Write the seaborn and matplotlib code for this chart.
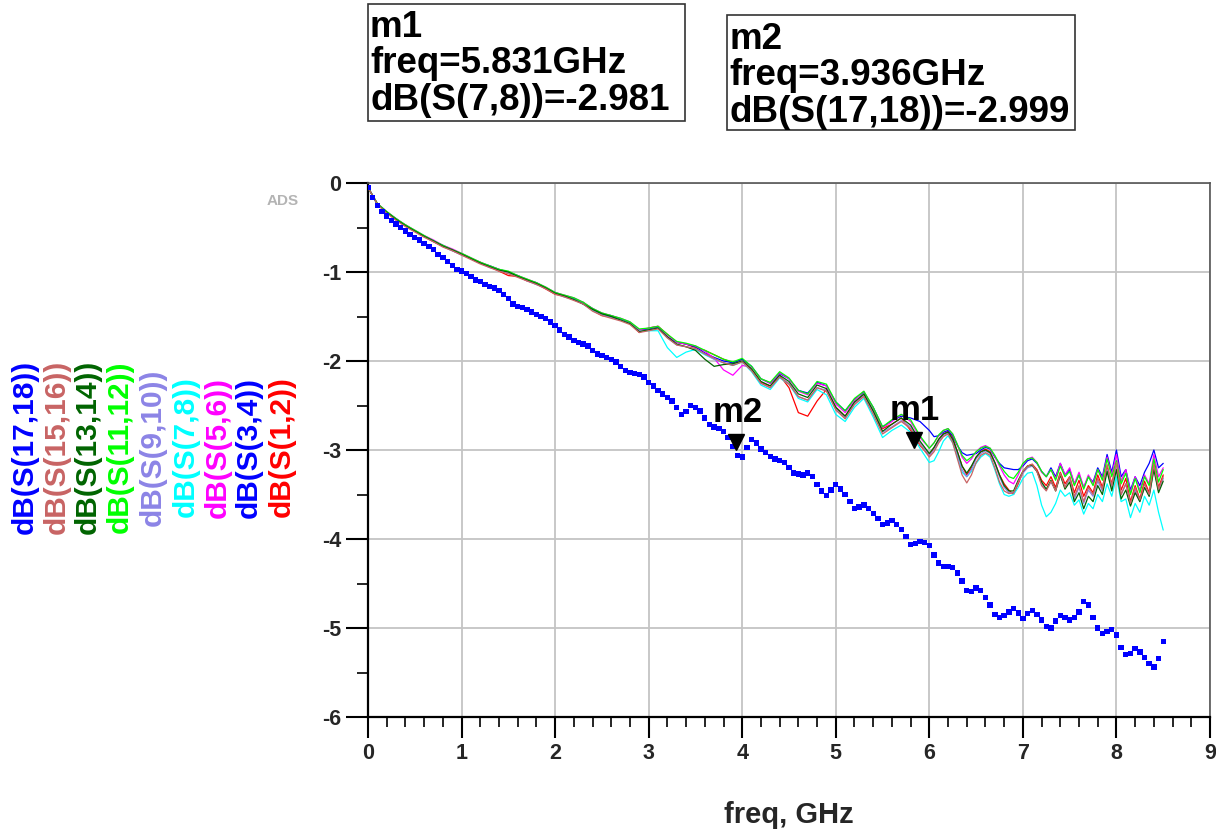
import numpy as np
import pandas as pd
import matplotlib
matplotlib.use("Agg")
import matplotlib.pyplot as plt
import seaborn as sns
from matplotlib.patches import Rectangle
from matplotlib.ticker import MultipleLocator
import matplotlib.transforms as mtransforms

sns.set_style("white")
plt.rcParams['font.family'] = ['Liberation Sans', 'DejaVu Sans']

# ---------------- data ----------------
freq_dots = np.round(np.arange(0, 8.5001, 0.05), 2)
s17_18 = [
    -0.05, -0.16, -0.25, -0.32, -0.37, -0.42, -0.46, -0.50, -0.54, -0.58,
    -0.61, -0.64, -0.68, -0.71, -0.75, -0.80, -0.84, -0.88, -0.93, -0.97,
    -0.99, -1.02, -1.05, -1.09, -1.11, -1.14, -1.16, -1.18, -1.21, -1.25,
    -1.30, -1.36, -1.39, -1.40, -1.42, -1.45, -1.48, -1.50, -1.52, -1.56,
    -1.60, -1.65, -1.70, -1.73, -1.77, -1.79, -1.81, -1.83, -1.88, -1.92,
    -1.94, -1.96, -1.98, -2.01, -2.06, -2.11, -2.13, -2.14, -2.15, -2.18,
    -2.24, -2.28, -2.33, -2.37, -2.41, -2.45, -2.52, -2.60, -2.57, -2.50,
    -2.52, -2.56, -2.64, -2.71, -2.74, -2.76, -2.79, -2.86, -2.96, -3.06,
    -3.08, -2.97, -2.88, -2.92, -2.99, -3.03, -3.07, -3.10, -3.12, -3.14,
    -3.20, -3.26, -3.27, -3.28, -3.26, -3.30, -3.39, -3.46, -3.51, -3.45,
    -3.39, -3.44, -3.50, -3.58, -3.66, -3.64, -3.62, -3.66, -3.71, -3.77,
    -3.84, -3.82, -3.79, -3.84, -3.89, -3.97, -4.06, -4.05, -4.03, -4.04,
    -4.07, -4.18, -4.27, -4.31, -4.31, -4.32, -4.38, -4.47, -4.58, -4.59,
    -4.55, -4.58, -4.66, -4.74, -4.85, -4.88, -4.86, -4.82, -4.78, -4.83,
    -4.89, -4.84, -4.80, -4.85, -4.91, -4.98, -5.00, -4.92, -4.86, -4.88,
    -4.91, -4.88, -4.82, -4.70, -4.74, -4.88, -5.00, -5.06, -5.04, -5.02,
    -5.08, -5.22, -5.30, -5.29, -5.23, -5.27, -5.33, -5.40, -5.44, -5.34,
    -5.15]

freq_lines = np.round(np.concatenate([np.arange(0, 6.0001, 0.1),
                                      np.arange(6.05, 8.5001, 0.05)]), 2)

s1_2 = [
    -0.05, -0.23, -0.33, -0.41, -0.47, -0.54, -0.60, -0.66, -0.71, -0.76,
    -0.80, -0.85, -0.89, -0.94, -0.99, -1.04, -1.05, -1.10, -1.13, -1.19,
    -1.25, -1.27, -1.31, -1.34, -1.43, -1.49, -1.50, -1.54, -1.58, -1.68,
    -1.63, -1.61, -1.70, -1.79, -1.81, -1.85, -1.88, -1.93, -1.98, -2.02,
    -1.98, -2.10, -2.24, -2.28, -2.16, -2.30, -2.58, -2.62, -2.45, -2.32,
    -2.52, -2.62, -2.47, -2.38, -2.57, -2.76, -2.71, -2.64, -2.78, -2.95,
    -3.06,
    -2.98, -2.88, -2.82, -2.79, -2.86, -3.02, -3.18, -3.28, -3.20, -3.08,
    -3.02, -2.99, -3.02, -3.14, -3.28, -3.38, -3.45, -3.50, -3.38, -3.25,
    -3.18, -3.16, -3.22, -3.34, -3.40, -3.30, -3.42, -3.25, -3.38, -3.30,
    -3.48, -3.34, -3.52, -3.40, -3.48, -3.28, -3.42, -3.18, -3.38, -3.15,
    -3.45, -3.32, -3.58, -3.40, -3.55, -3.35, -3.48, -3.15, -3.42, -3.28]

s3_4 = [
    -0.05, -0.24, -0.33, -0.40, -0.48, -0.54, -0.60, -0.65, -0.70, -0.75,
    -0.80, -0.85, -0.90, -0.93, -0.97, -1.00, -1.04, -1.09, -1.12, -1.18,
    -1.23, -1.27, -1.30, -1.35, -1.41, -1.47, -1.49, -1.53, -1.57, -1.65,
    -1.64, -1.62, -1.73, -1.79, -1.81, -1.84, -1.91, -1.96, -2.00, -2.02,
    -1.98, -2.06, -2.20, -2.25, -2.14, -2.20, -2.33, -2.36, -2.24, -2.28,
    -2.46, -2.56, -2.43, -2.35, -2.52, -2.74, -2.67, -2.62, -2.64, -2.68,
    -2.78,
    -2.85, -2.84, -2.80, -2.78, -2.84, -2.95, -3.03, -3.06, -3.05, -3.04,
    -3.00, -2.97, -2.99, -3.08, -3.15, -3.20, -3.21, -3.22, -3.22, -3.18,
    -3.12, -3.10, -3.15, -3.24, -3.30, -3.20, -3.30, -3.15, -3.28, -3.22,
    -3.38, -3.28, -3.42, -3.30, -3.36, -3.20, -3.30, -3.05, -3.25, -3.00,
    -3.30, -3.22, -3.45, -3.30, -3.40, -3.25, -3.15, -3.00, -3.20, -3.15]

s5_6 = [
    -0.05, -0.23, -0.32, -0.40, -0.47, -0.53, -0.59, -0.64, -0.70, -0.74,
    -0.79, -0.84, -0.89, -0.93, -0.97, -1.00, -1.04, -1.08, -1.12, -1.17,
    -1.23, -1.26, -1.29, -1.34, -1.41, -1.46, -1.49, -1.52, -1.56, -1.65,
    -1.63, -1.61, -1.71, -1.79, -1.81, -1.83, -1.89, -1.97, -2.10, -2.16,
    -2.05, -2.07, -2.20, -2.25, -2.13, -2.20, -2.34, -2.38, -2.25, -2.28,
    -2.48, -2.58, -2.44, -2.34, -2.53, -2.75, -2.68, -2.60, -2.68, -2.86,
    -2.98,
    -2.92, -2.84, -2.78, -2.76, -2.82, -2.94, -3.08, -3.15, -3.10, -3.02,
    -2.97, -2.95, -2.98, -3.07, -3.18, -3.28, -3.35, -3.38, -3.28, -3.16,
    -3.10, -3.08, -3.14, -3.25, -3.30, -3.22, -3.32, -3.15, -3.28, -3.20,
    -3.38, -3.25, -3.42, -3.28, -3.38, -3.22, -3.32, -3.08, -3.28, -3.05,
    -3.35, -3.22, -3.48, -3.30, -3.45, -3.28, -3.38, -3.05, -3.30, -3.20]

s7_8 = [
    -0.05, -0.24, -0.33, -0.41, -0.48, -0.54, -0.60, -0.65, -0.71, -0.76,
    -0.80, -0.85, -0.90, -0.94, -0.98, -1.01, -1.05, -1.09, -1.14, -1.18,
    -1.24, -1.28, -1.31, -1.36, -1.43, -1.48, -1.51, -1.54, -1.58, -1.67,
    -1.66, -1.66, -1.85, -1.96, -1.90, -1.87, -1.93, -1.98, -2.02, -2.05,
    -2.01, -2.12, -2.27, -2.32, -2.19, -2.26, -2.42, -2.46, -2.32, -2.38,
    -2.60, -2.68, -2.52, -2.42, -2.63, -2.86, -2.78, -2.72, -2.80, -2.98,
    -3.14,
    -3.12, -3.02, -2.90, -2.84, -2.92, -3.08, -3.25, -3.30, -3.24, -3.15,
    -3.08, -3.04, -3.08, -3.22, -3.38, -3.50, -3.52, -3.50, -3.42, -3.32,
    -3.26, -3.25, -3.40, -3.62, -3.75, -3.70, -3.60, -3.45, -3.52, -3.48,
    -3.62, -3.56, -3.72, -3.60, -3.66, -3.50, -3.58, -3.38, -3.52, -3.30,
    -3.58, -3.55, -3.76, -3.60, -3.70, -3.52, -3.62, -3.45, -3.70, -3.90]

s9_10 = [
    -0.05, -0.24, -0.33, -0.41, -0.48, -0.54, -0.60, -0.66, -0.71, -0.76,
    -0.81, -0.85, -0.90, -0.95, -0.98, -1.01, -1.05, -1.10, -1.14, -1.18,
    -1.24, -1.28, -1.31, -1.36, -1.42, -1.48, -1.51, -1.54, -1.58, -1.67,
    -1.65, -1.63, -1.74, -1.82, -1.84, -1.86, -1.92, -1.98, -2.02, -2.04,
    -2.00, -2.10, -2.25, -2.30, -2.18, -2.25, -2.40, -2.44, -2.30, -2.33,
    -2.54, -2.64, -2.48, -2.39, -2.58, -2.80, -2.74, -2.67, -2.74, -2.92,
    -3.06,
    -3.00, -2.90, -2.84, -2.81, -2.90, -3.05, -3.22, -3.30, -3.22, -3.10,
    -3.04, -3.01, -3.04, -3.15, -3.30, -3.42, -3.48, -3.48, -3.36, -3.26,
    -3.20, -3.18, -3.24, -3.38, -3.45, -3.36, -3.45, -3.28, -3.42, -3.32,
    -3.55, -3.42, -3.60, -3.45, -3.52, -3.35, -3.46, -3.22, -3.42, -3.18,
    -3.50, -3.38, -3.62, -3.45, -3.58, -3.42, -3.52, -3.20, -3.46, -3.32]

s11_12 = [
    -0.05, -0.23, -0.32, -0.40, -0.47, -0.53, -0.59, -0.65, -0.70, -0.75,
    -0.79, -0.84, -0.89, -0.93, -0.97, -0.99, -1.04, -1.08, -1.12, -1.17,
    -1.23, -1.26, -1.29, -1.34, -1.41, -1.46, -1.49, -1.52, -1.56, -1.64,
    -1.63, -1.61, -1.70, -1.78, -1.80, -1.83, -1.88, -1.93, -1.98, -2.01,
    -1.97, -2.06, -2.20, -2.24, -2.12, -2.19, -2.33, -2.37, -2.23, -2.26,
    -2.46, -2.56, -2.42, -2.34, -2.52, -2.74, -2.66, -2.60, -2.66, -2.84,
    -2.98,
    -2.92, -2.83, -2.78, -2.76, -2.82, -2.94, -3.06, -3.12, -3.08, -3.02,
    -2.98, -2.96, -2.98, -3.06, -3.16, -3.24, -3.30, -3.32, -3.25, -3.15,
    -3.10, -3.09, -3.14, -3.24, -3.30, -3.22, -3.34, -3.18, -3.30, -3.24,
    -3.40, -3.28, -3.44, -3.30, -3.40, -3.22, -3.34, -3.10, -3.30, -3.12,
    -3.38, -3.26, -3.50, -3.32, -3.48, -3.30, -3.40, -3.10, -3.36, -3.22]

s13_14 = [
    -0.05, -0.24, -0.33, -0.41, -0.48, -0.54, -0.60, -0.65, -0.71, -0.75,
    -0.80, -0.85, -0.90, -0.94, -0.98, -1.00, -1.05, -1.09, -1.13, -1.18,
    -1.24, -1.27, -1.31, -1.36, -1.42, -1.47, -1.50, -1.54, -1.58, -1.67,
    -1.65, -1.63, -1.73, -1.81, -1.84, -1.88, -1.98, -2.06, -2.04, -2.03,
    -2.00, -2.09, -2.23, -2.28, -2.16, -2.23, -2.37, -2.41, -2.27, -2.31,
    -2.52, -2.62, -2.46, -2.37, -2.56, -2.79, -2.71, -2.64, -2.72, -2.90,
    -3.04,
    -2.97, -2.88, -2.82, -2.80, -2.88, -3.02, -3.18, -3.26, -3.18, -3.08,
    -3.02, -3.00, -3.03, -3.14, -3.28, -3.40, -3.46, -3.46, -3.34, -3.24,
    -3.18, -3.17, -3.24, -3.36, -3.44, -3.34, -3.46, -3.28, -3.44, -3.36,
    -3.58, -3.48, -3.66, -3.52, -3.58, -3.40, -3.50, -3.24, -3.46, -3.22,
    -3.55, -3.45, -3.63, -3.48, -3.58, -3.42, -3.52, -3.22, -3.48, -3.35]

s15_16 = [
    -0.05, -0.24, -0.34, -0.42, -0.49, -0.55, -0.61, -0.66, -0.72, -0.76,
    -0.81, -0.86, -0.91, -0.95, -0.99, -1.02, -1.06, -1.10, -1.14, -1.19,
    -1.25, -1.28, -1.32, -1.36, -1.44, -1.49, -1.52, -1.55, -1.59, -1.68,
    -1.66, -1.64, -1.74, -1.82, -1.84, -1.86, -1.92, -1.97, -2.02, -2.05,
    -2.01, -2.11, -2.25, -2.30, -2.18, -2.26, -2.40, -2.44, -2.30, -2.34,
    -2.55, -2.65, -2.49, -2.40, -2.60, -2.82, -2.75, -2.68, -2.76, -2.94,
    -3.08,
    -3.02, -2.92, -2.85, -2.82, -2.92, -3.10, -3.28, -3.37, -3.28, -3.14,
    -3.06, -3.03, -3.06, -3.20, -3.36, -3.46, -3.49, -3.48, -3.36, -3.24,
    -3.18, -3.16, -3.24, -3.40, -3.46, -3.35, -3.46, -3.26, -3.42, -3.30,
    -3.52, -3.40, -3.58, -3.42, -3.50, -3.32, -3.44, -3.16, -3.40, -3.14,
    -3.50, -3.38, -3.60, -3.42, -3.56, -3.38, -3.50, -3.16, -3.44, -3.30]

trace_names = ["dB(S(1,2))", "dB(S(3,4))", "dB(S(5,6))", "dB(S(7,8))",
               "dB(S(9,10))", "dB(S(11,12))", "dB(S(13,14))", "dB(S(15,16))"]
trace_values = [s1_2, s3_4, s5_6, s7_8, s9_10, s11_12, s13_14, s15_16]
trace_colors = ["#FF0000", "#0000FF", "#FF00FF", "#00FFFF",
                "#8C84E6", "#00FF00", "#006400", "#C86464"]
dot_name = "dB(S(17,18))"
dot_color = "#0000FF"

legend_order = ["dB(S(17,18))", "dB(S(15,16))", "dB(S(13,14))", "dB(S(11,12))",
                "dB(S(9,10))", "dB(S(7,8))", "dB(S(5,6))", "dB(S(3,4))", "dB(S(1,2))"]

m1_freq, m1_val = 5.831, -2.981
m2_freq, m2_val = 3.936, -2.999
m1_lines = ["m1", "freq=5.831GHz", "dB(S(7,8))=-2.981"]
m2_lines = ["m2", "freq=3.936GHz", "dB(S(17,18))=-2.999"]

x_ticks = list(range(0, 10))
x_tick_labels = [str(v) for v in x_ticks]
y_ticks = [0, -1, -2, -3, -4, -5, -6]
y_tick_labels = ["0", "-1", "-2", "-3", "-4", "-5", "-6"]

# ---------------- figure ----------------
W, H = 1216, 832
fig = plt.figure(figsize=(W / 100, H / 100), dpi=100)
ax = fig.add_axes([368 / W, 1 - 717 / H, (1210 - 368) / W, (717 - 183) / H])

rows = []
for name, vals in zip(trace_names, trace_values):
    for f, v in zip(freq_lines, vals):
        rows.append((name, f, v))
df = pd.DataFrame(rows, columns=["trace", "freq", "dB"])
palette = dict(zip(trace_names, trace_colors))

sns.lineplot(data=df, x="freq", y="dB", hue="trace", hue_order=trace_names,
             palette=palette, linewidth=0.9, legend=False, estimator=None,
             sort=False, ax=ax, zorder=3)
sns.scatterplot(x=freq_dots, y=s17_18, marker="s", s=15, color=dot_color,
                edgecolor="none", linewidth=0, ax=ax, zorder=4)

ax.set_xlim(0, 9)
ax.set_ylim(-6, 0)
ax.set_xticks(x_ticks)
ax.set_xticklabels(x_tick_labels, fontsize=15.5, fontweight="bold")
ax.set_yticks(y_ticks)
ax.set_yticklabels(y_tick_labels, fontsize=15.5, fontweight="bold")
ax.xaxis.set_minor_locator(MultipleLocator(0.2))
ax.yaxis.set_minor_locator(MultipleLocator(0.5))
ax.tick_params(axis="x", which="major", direction="out", length=15, width=1.5,
               color="black", pad=4, bottom=True)
ax.tick_params(axis="x", which="minor", direction="out", length=7.5, width=1.2,
               color="black", bottom=True)
ax.tick_params(axis="y", which="major", direction="out", length=16, width=1.5,
               color="black", pad=3, left=True)
ax.tick_params(axis="y", which="minor", direction="out", length=8, width=1.2,
               color="black", left=True)
ax.grid(True, which="major", color="#c4c4c4", linewidth=1.3)
ax.set_axisbelow(True)
for side in ["left", "bottom"]:
    ax.spines[side].set_color("black")
    ax.spines[side].set_linewidth(1.6)
for side in ["top", "right"]:
    ax.spines[side].set_color("#555555")
    ax.spines[side].set_linewidth(1.2)

ax.set_xlabel("freq, GHz", fontsize=21, fontweight="bold")
ax.set_ylabel("")
ax.xaxis.label.set_va("center")
ax.xaxis.set_label_coords(0.5, (717 - 815) / 534)

# markers
for fq, val, name in [(m1_freq, m1_val, "m1"), (m2_freq, m2_val, "m2")]:
    tr = mtransforms.offset_copy(ax.transData, fig=fig, x=0, y=6, units="points")
    ax.plot([fq], [val], marker="v", ms=12, color="black", linestyle="none",
            transform=tr, zorder=6)
    ax.annotate(name, xy=(fq, val), xytext=(1, 27), textcoords="offset points",
                ha="center", va="center", fontsize=25, fontweight="bold",
                color="black", zorder=7)

# marker readout boxes
def readout(x0, y0, x1, y1, lines, baselines):
    fig.add_artist(Rectangle((x0 / W, 1 - y1 / H), (x1 - x0) / W, (y1 - y0) / H,
                             transform=fig.transFigure, fill=False,
                             edgecolor="#333333", linewidth=1.2))
    for txt, b in zip(lines, baselines):
        fig.text((x0 + 2) / W, 1 - b / H, txt, ha="left", va="baseline",
                 fontsize=26.5, fontweight="bold", color="black")

readout(368, 4, 685, 121, m1_lines, [37, 73, 110])
readout(727, 15, 1075, 130, m2_lines, [49, 85, 122])

# ADS watermark
fig.text(283 / W, 1 - 201 / H, "ADS", ha="center", va="center", fontsize=11,
         color="#b4b4b4", fontweight="bold")

# rotated legend on the left
legend_colors = {dot_name: dot_color, **palette}
legend_x = [25, 57, 88, 120, 153, 186, 218, 249, 282]
for name, xp in zip(legend_order, legend_x):
    fig.text(xp / W, 1 - 447 / H, name, rotation=90, ha="center", va="center",
             fontsize=21.5, fontweight="bold", color=legend_colors[name])

fig.savefig("out.png", dpi=100)
